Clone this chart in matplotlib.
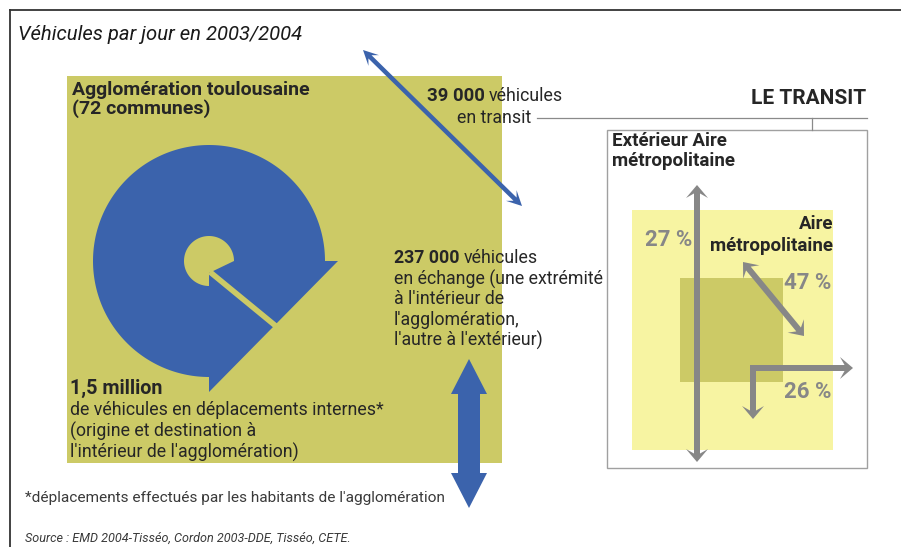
import numpy as np
import matplotlib
matplotlib.use("Agg")
import matplotlib.pyplot as plt
from matplotlib.patches import Polygon, Rectangle
from matplotlib import font_manager

# ---- values shown on the infographic ----
title = "Véhicules par jour en 2003/2004"
zone_label = ["Agglomération toulousaine", "(72 communes)"]
internal_value = "1,5 million"
internal_text = ["de véhicules en déplacements internes*",
                 "(origine et destination à",
                 "l'intérieur de l'agglomération)"]
exchange_value = "237 000"
exchange_text = ["véhicules", "en échange (une extrémité", "à l'intérieur de",
                 "l'agglomération,", "l'autre à l'extérieur)"]
transit_value = "39 000"
transit_text = ["véhicules", "en transit"]
transit_title = "LE TRANSIT"
transit_zones = ["Extérieur Aire\nmétropolitaine", "Aire\nmétropolitaine"]
transit_shares = [27, 47, 26]  # % : traversant / interne aire / échange aire
footnote = "*déplacements effectués par les habitants de l'agglomération"
source = "Source : EMD 2004-Tisséo, Cordon 2003-DDE, Tisséo, CETE."

names = {f.name for f in font_manager.fontManager.ttflist}
FONT = "Liberation Sans Narrow" if "Liberation Sans Narrow" in names else "Roboto"

OLIVE = "#CCCA66"
BLUE = "#3B63AC"
PALE = "#F7F4A2"
GREY = "#878787"
INK = "#262626"
BODY = 12.8

W, H = 901, 547
fig = plt.figure(figsize=(W / 100, H / 100), dpi=100)
ax = fig.add_axes([0, 0, 1, 1])
ax.set_xlim(0, W)
ax.set_ylim(H, 0)
ax.axis("off")


def arrow_shape(p0, p1, sw, hw, hl, both=True, notch=0.0):
    p0 = np.asarray(p0, float)
    p1 = np.asarray(p1, float)
    d = (p1 - p0) / np.hypot(*(p1 - p0))
    n = np.array([-d[1], d[0]])
    pts = [p1, p1 - d * hl + n * hw / 2, p1 - d * hl * (1 - notch) + n * sw / 2]
    if both:
        pts += [p0 + d * hl * (1 - notch) + n * sw / 2, p0 + d * hl + n * hw / 2, p0,
                p0 + d * hl - n * hw / 2, p0 + d * hl * (1 - notch) - n * sw / 2]
    else:
        pts += [p0 + n * sw / 2, p0 - n * sw / 2]
    pts += [p1 - d * hl * (1 - notch) - n * sw / 2, p1 - d * hl - n * hw / 2]
    return np.array(pts)


def add_arrow(*args, color=BLUE, z=3, **kw):
    ax.add_patch(Polygon(arrow_shape(*args, **kw), closed=True, fc=color, ec="none", zorder=z))


# frame
ax.plot([10, W], [10, 10], color="#333333", lw=1.3)
ax.plot([10, 10], [10, H], color="#333333", lw=1.3)

ax.text(18, 35, title, fontsize=14.6, style="italic", family=FONT, color="#1a1a1a", va="center")

# agglomeration square
ax.add_patch(Rectangle((67, 76), 435, 387, fc=OLIVE, ec="none", zorder=1))
ax.text(72, 90, zone_label[0], fontsize=14, weight="bold", family=FONT, color=INK, va="center")
ax.text(72, 109, zone_label[1], fontsize=14, weight="bold", family=FONT, color=INK, va="center")

# circular arrow (internal trips)
cx, cy, r = 209, 261, 116
th = np.radians(np.linspace(0, 270, 200))
outer = np.column_stack([cx + r * np.cos(th), cy - r * np.sin(th)])
outer = np.vstack([outer, [[cx, cy + 131], [cx + 129, cy]]])
ax.add_patch(Polygon(outer, closed=True, fc=BLUE, ec="none", zorder=2))
ri = 25
inner = np.column_stack([cx + ri * np.cos(th), cy - ri * np.sin(th)])
inner = np.vstack([inner, [[cx, cy + 12], [cx + ri, cy]]])
ax.add_patch(Polygon(inner, closed=True, fc=OLIVE, ec="none", zorder=3))
ax.plot([cx + 1, cx + 68], [cy + 11, cy + 66], color=OLIVE, lw=4, solid_capstyle="butt", zorder=3)

ax.text(70, 388, internal_value, fontsize=14.2, weight="bold", family=FONT, color=INK, va="center")
for i, line in enumerate(internal_text):
    ax.text(70, 410 + 21 * i, line, fontsize=BODY, family=FONT, color=INK, va="center")

# exchange
fig.canvas.draw()
rend = fig.canvas.get_renderer()
t = ax.text(394, 258, exchange_value, fontsize=BODY, weight="bold", family=FONT, color=INK, va="center")
x_end = ax.transData.inverted().transform(t.get_window_extent(rend))[1][0]
ax.text(x_end + 4, 258, exchange_text[0], fontsize=BODY, family=FONT, color=INK, va="center")
for i, line in enumerate(exchange_text[1:]):
    ax.text(394, 279 + 20.5 * i, line, fontsize=BODY, family=FONT, color=INK, va="center")
add_arrow((469, 508), (469, 359), 22, 36, 35, both=True)

# transit (blue diagonal)
add_arrow((363, 50), (522, 206), 4.5, 15, 15, both=True, notch=0.35)
t = ax.text(427, 96, transit_value, fontsize=13.4, weight="bold", family=FONT, color=INK, va="center")
x_end = ax.transData.inverted().transform(t.get_window_extent(rend))[1][0]
ax.text(x_end + 4, 96, transit_text[0], fontsize=BODY, family=FONT, color=INK, va="center")
ax.text(457, 118, transit_text[1], fontsize=BODY, family=FONT, color=INK, va="center")
ax.plot([537, 867], [118, 118], color="#8a8a8a", lw=0.9)
ax.plot([812, 812], [118, 130], color="#8a8a8a", lw=0.9)
ax.text(866, 98, transit_title, fontsize=15, weight="bold", family=FONT, color=INK,
        va="center", ha="right")

# transit box
ax.add_patch(Rectangle((607, 130), 260, 338, fc="white", ec="#a0a0a0", lw=1.0, zorder=1))
ax.add_patch(Rectangle((632, 210), 201, 240, fc=PALE, ec="none", zorder=2))
ax.add_patch(Rectangle((680, 278), 103, 104, fc=OLIVE, ec="none", zorder=2))
ax.text(612, 151, transit_zones[0], fontsize=13.5, weight="bold", family=FONT, color=INK,
        va="center", linespacing=1.2)
ax.text(833, 235, transit_zones[1], fontsize=13.5, weight="bold", family=FONT, color=INK,
        va="center", ha="right", multialignment="right", linespacing=1.3)

add_arrow((697, 462), (697, 185), 6, 22, 13, color=GREY, z=4, notch=0.35)
add_arrow((743, 262), (804, 336), 6, 21, 13, color=GREY, z=4, notch=0.35)
add_arrow((750, 368), (853, 368), 6, 22, 13, both=False, color=GREY, z=4, notch=0.35)
add_arrow((753, 365), (753, 419), 6, 22, 13, both=False, color=GREY, z=4, notch=0.35)

ax.text(692, 240, f"{transit_shares[0]} %", fontsize=16, weight="bold", family=FONT, color=GREY,
        va="center", ha="right", zorder=5)
ax.text(831, 283, f"{transit_shares[1]} %", fontsize=16, weight="bold", family=FONT, color=GREY,
        va="center", ha="right", zorder=5)
ax.text(831, 392, f"{transit_shares[2]} %", fontsize=16, weight="bold", family=FONT, color=GREY,
        va="center", ha="right", zorder=5)

ax.text(25, 498, footnote, fontsize=11.1, family=FONT, color="#3a3a3a", va="center")
ax.text(25, 538, source, fontsize=9.1, style="italic", family=FONT, color="#3a3a3a", va="center")

fig.savefig("out.png", dpi=100, facecolor="white")
